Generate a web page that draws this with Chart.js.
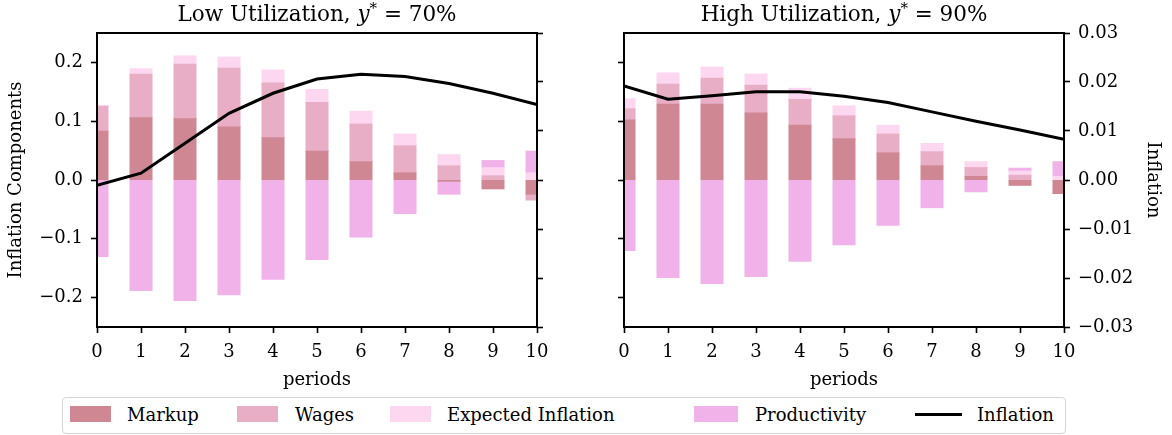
<!DOCTYPE html>
<html>
<head>
<meta charset="utf-8">
<script src="https://cdn.jsdelivr.net/npm/chart.js@4.4.1/dist/chart.umd.min.js"></script>
<style>
  html, body { margin: 0; padding: 0; background: #fff; }
  body { width: 1172px; height: 435px; position: relative; overflow: hidden;
         font-family: "DejaVu Serif", "Liberation Serif", serif; color: #000; }
  canvas { position: absolute; top: 0; }
  #cLow { left: 0; }
  #cHigh { left: 586px; }
  #legend { position: absolute; left: 62px; top: 397px; width: 1004px; height: 37px;
            box-sizing: border-box; border: 1.5px solid #d4d4d4; border-radius: 4px; background: #fff; }
  .sw { position: absolute; height: 16px; top: 406px; }
  .ln { position: absolute; height: 3px; top: 413px; background: #000; }
  .lt { position: absolute; top: 403px; font-size: 18px; line-height: 24px; white-space: nowrap; }
</style>
</head>
<body>
<canvas id="cLow" width="586" height="395"></canvas>
<canvas id="cHigh" width="586" height="395"></canvas>
<div id="legend"></div>
<script>
// ---- data ----
const periods = [0, 1, 2, 3, 4, 5, 6, 7, 8, 9, 10];
const periodTickLabels = ['0', '1', '2', '3', '4', '5', '6', '7', '8', '9', '10'];

const componentTicks = [-0.2, -0.1, 0, 0.1, 0.2];
const componentTickLabels = ['\u22120.2', '\u22120.1', '0.0', '0.1', '0.2'];
const inflationTicks = [-0.03, -0.02, -0.01, 0, 0.01, 0.02, 0.03];
const inflationTickLabels = ['\u22120.03', '\u22120.02', '\u22120.01', '0.00', '0.01', '0.02', '0.03'];

const seriesNames = ['Markup', 'Wages', 'Expected Inflation', 'Productivity', 'Inflation'];
const seriesColors = ['#cf8794', '#e8aec5', '#fdd6f0', '#f0b2e8', '#000000'];

// low utilization, y* = 70%
const lowMarkup       = [0.083, 0.106, 0.104, 0.090, 0.072, 0.049, 0.031, 0.012, -0.002, -0.015, -0.024];
const lowWages        = [0.042, 0.074, 0.093, 0.100, 0.093, 0.083, 0.064, 0.046, 0.024, 0.007, -0.010];
const lowExpected     = [0.002, 0.009, 0.014, 0.019, 0.022, 0.022, 0.022, 0.020, 0.019, 0.014, 0.012];
const lowProductivity = [-0.130, -0.188, -0.205, -0.195, -0.169, -0.135, -0.097, -0.057, -0.022, 0.012, 0.037];
const lowInflation    = [-0.0011, 0.0014, 0.0075, 0.0136, 0.0177, 0.0206, 0.0216, 0.0211, 0.0197, 0.0177, 0.0154];

// high utilization, y* = 90%
const highMarkup       = [0.102, 0.129, 0.129, 0.114, 0.093, 0.070, 0.046, 0.024, 0.006, -0.009, -0.023];
const highWages        = [0.019, 0.034, 0.044, 0.047, 0.044, 0.039, 0.032, 0.024, 0.015, 0.008, 0.000];
const highExpected     = [0.017, 0.019, 0.019, 0.019, 0.019, 0.017, 0.015, 0.014, 0.010, 0.007, 0.006];
const highProductivity = [-0.120, -0.166, -0.176, -0.164, -0.138, -0.110, -0.077, -0.047, -0.020, 0.005, 0.025];
const highInflation    = [0.0192, 0.0165, 0.0172, 0.0180, 0.0180, 0.0171, 0.0158, 0.0139, 0.0120, 0.0102, 0.0083];

// ---- styling ----
const FAMILY = '"DejaVu Serif", "Liberation Serif", serif';
const FSIZE = 18;
const TSIZE = 21.5;
const BASE_FONT = { family: FAMILY, size: FSIZE };

const pts = (vals) => periods.map((p, i) => ({ x: p, y: vals[i] }));
const setTicks = (vals) => (scale) => { scale.ticks = vals.map(v => ({ value: v })); };
const labelFrom = (vals, labels) => (v) => { const k = vals.indexOf(v); return k < 0 ? '' : labels[k]; };

// panel title with an italic y and superscript star
const panelTitle = {
  id: 'panelTitle',
  afterDraw(chart, args, o) {
    if (!o || !o.before) return;
    const ctx = chart.ctx, a = chart.chartArea;
    const parts = [
      { t: o.before, f: `${TSIZE}px ${FAMILY}`, dy: 0 },
      { t: 'y', f: `italic ${TSIZE}px ${FAMILY}`, dy: 0 },
      { t: '*', f: `${Math.round(TSIZE * 0.7)}px ${FAMILY}`, dy: -8 },
      { t: ' = ' + o.after, f: `${TSIZE}px ${FAMILY}`, dy: 0 }
    ];
    ctx.save();
    let w = 0;
    parts.forEach(p => { ctx.font = p.f; p.w = ctx.measureText(p.t).width; w += p.w; });
    let x = (a.left + a.right) / 2 - w / 2;
    ctx.fillStyle = '#000';
    ctx.textBaseline = 'alphabetic';
    ctx.textAlign = 'left';
    parts.forEach(p => { ctx.font = p.f; ctx.fillText(p.t, x, o.y + p.dy); x += p.w; });
    ctx.restore();
  }
};

// axes frame drawn above the bars
const frame = {
  id: 'frame',
  afterDatasetsDraw(chart) {
    const ctx = chart.ctx, a = chart.chartArea;
    ctx.save();
    ctx.strokeStyle = '#000';
    ctx.lineWidth = 2;
    ctx.strokeRect(a.left, a.top, a.right - a.left, a.bottom - a.top);
    ctx.restore();
  }
};

function tickGrid() {
  return { display: true, offset: false, drawOnChartArea: false, drawTicks: true, tickLength: 6,
           tickWidth: 1.6, tickColor: '#000' };
}

function makePanel(canvasId, comps, infl, cfg) {
  const barSets = comps.map((vals, k) => ({
    type: 'bar',
    label: seriesNames[k],
    data: pts(vals),
    backgroundColor: seriesColors[k],
    borderWidth: 0,
    inflateAmount: 0.5,
    yAxisID: 'y',
    xAxisID: 'x',
    stack: 'components',
    barPercentage: 0.5,
    categoryPercentage: 1,
    clip: 0,
    order: 1
  }));
  const lineSet = {
    type: 'line',
    label: seriesNames[4],
    data: pts(infl),
    borderColor: '#000',
    borderWidth: 3,
    pointRadius: 0,
    tension: 0,
    fill: false,
    yAxisID: 'y2',
    xAxisID: 'x',
    clip: 0,
    order: 0
  };

  return new Chart(document.getElementById(canvasId), {
    type: 'bar',
    data: { datasets: [...barSets, lineSet] },
    options: {
      responsive: false,
      animation: false,
      devicePixelRatio: 1,
      layout: { padding: { top: 33, left: 0, right: 0, bottom: 0 } },
      plugins: {
        legend: { display: false },
        tooltip: { enabled: false },
        title: { display: false },
        panelTitle: { before: cfg.titleBefore, after: cfg.titleAfter, y: 21 }
      },
      scales: {
        x: {
          type: 'linear', position: 'bottom', min: 0, max: 10, offset: false,
          grid: tickGrid(), border: { display: false },
          afterBuildTicks: setTicks(periods),
          ticks: { font: BASE_FONT, color: '#000', padding: 9, maxRotation: 0,
                   callback: labelFrom(periods, periodTickLabels) },
          title: { display: true, text: 'periods', font: BASE_FONT, color: '#000',
                   padding: { top: 0, bottom: 4 } },
          afterFit: (s) => { s.height = 68; }
        },
        y: {
          type: 'linear', position: 'left', min: -0.25, max: 0.25, stacked: true,
          grid: tickGrid(), border: { display: false },
          afterBuildTicks: setTicks(componentTicks),
          ticks: { font: BASE_FONT, color: '#000', padding: 8,
                   callback: cfg.leftLabels ? labelFrom(componentTicks, componentTickLabels) : () => '' },
          title: { display: cfg.leftLabels, text: 'Inflation Components', font: BASE_FONT,
                   color: '#000', padding: { top: 6, bottom: 0 } },
          afterFit: (s) => { s.width = cfg.leftWidth; }
        },
        y2: {
          type: 'linear', position: 'right', min: -0.03, max: 0.03,
          grid: tickGrid(), border: { display: false },
          afterBuildTicks: setTicks(inflationTicks),
          ticks: { font: BASE_FONT, color: '#000', padding: 8,
                   callback: cfg.rightLabels ? labelFrom(inflationTicks, inflationTickLabels) : () => '' },
          title: { display: cfg.rightLabels, text: 'Inflation', font: BASE_FONT,
                   color: '#000', padding: { top: 9, bottom: 0 } },
          afterFit: (s) => { s.width = cfg.rightWidth; }
        }
      }
    },
    plugins: [panelTitle, frame]
  });
}

makePanel('cLow', [lowMarkup, lowWages, lowExpected, lowProductivity], lowInflation, {
  titleBefore: 'Low Utilization, ', titleAfter: '70%',
  leftLabels: true, rightLabels: false, leftWidth: 97, rightWidth: 49
});
makePanel('cHigh', [highMarkup, highWages, highExpected, highProductivity], highInflation, {
  titleBefore: 'High Utilization, ', titleAfter: '90%',
  leftLabels: false, rightLabels: true, leftWidth: 38, rightWidth: 108
});

// shared legend below both panels
const legendLayout = [
  { sw: [70, 41],  text: 127 },
  { sw: [237, 41], text: 295 },
  { sw: [390, 41], text: 447 },
  { sw: [694, 44], text: 755 },
  { sw: [915, 47], text: 977, line: true }
];
legendLayout.forEach((it, k) => {
  const mark = document.createElement('div');
  mark.className = it.line ? 'ln' : 'sw';
  mark.style.left = it.sw[0] + 'px';
  mark.style.width = it.sw[1] + 'px';
  if (!it.line) mark.style.background = seriesColors[k];
  document.body.appendChild(mark);
  const t = document.createElement('div');
  t.className = 'lt';
  t.style.left = it.text + 'px';
  t.textContent = seriesNames[k];
  document.body.appendChild(t);
});
</script>
</body>
</html>
